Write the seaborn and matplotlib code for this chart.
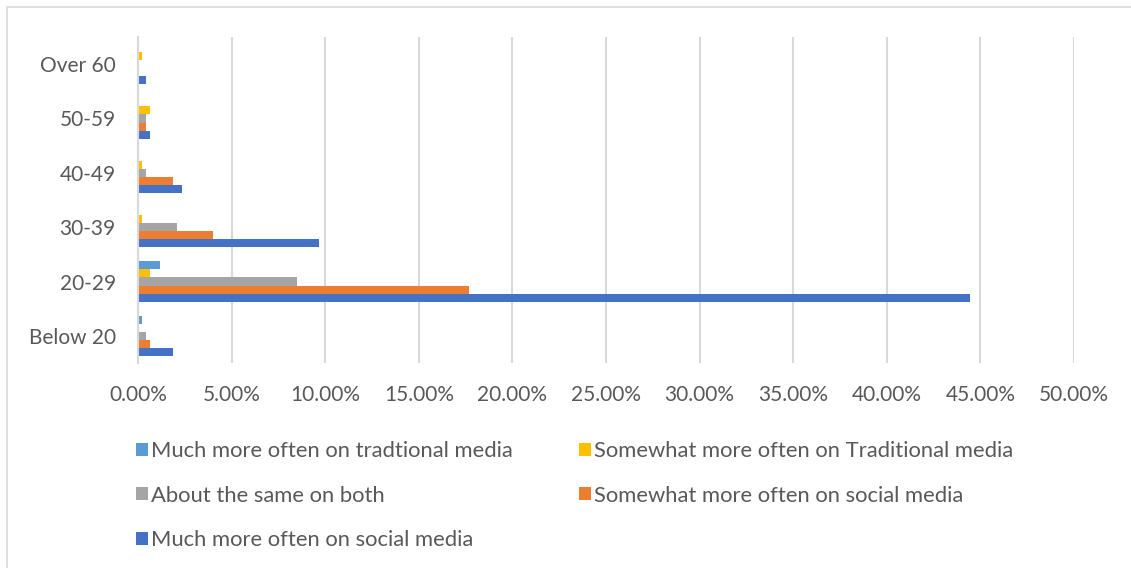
import matplotlib
matplotlib.use("Agg")
import matplotlib.pyplot as plt
from matplotlib.patches import Rectangle
from matplotlib.ticker import FuncFormatter, MultipleLocator
import seaborn as sns
import pandas as pd

# Age groups, top to bottom
age_groups = ["Over 60", "50-59", "40-49", "30-39", "20-29", "Below 20"]

# Share of respondents (%) per answer, listed in age_groups order
much_more_traditional = [0.0, 0.0, 0.0, 0.0, 1.15, 0.21]
somewhat_more_traditional = [0.21, 0.66, 0.21, 0.21, 0.66, 0.0]
about_same = [0.0, 0.41, 0.41, 2.10, 8.50, 0.41]
somewhat_more_social = [0.0, 0.41, 1.85, 4.00, 17.70, 0.66]
much_more_social = [0.41, 0.66, 2.33, 9.66, 44.45, 1.85]

series_names = [
    "Much more often on tradtional media",
    "Somewhat more often on Traditional media",
    "About the same on both",
    "Somewhat more often on social media",
    "Much more often on social media",
]
series_values = [
    much_more_traditional,
    somewhat_more_traditional,
    about_same,
    somewhat_more_social,
    much_more_social,
]
series_colors = ["#5B9BD5", "#FFC000", "#A5A5A5", "#ED7D31", "#4472C4"]

rows = []
for name, vals in zip(series_names, series_values):
    for grp, v in zip(age_groups, vals):
        rows.append({"Age": grp, "Answer": name, "Share": v})
df = pd.DataFrame(rows)

sns.set_theme(style="white")
plt.rcParams["font.family"] = ["Lato", "DejaVu Sans"]
text_color = "#595959"
grid_color = "#D9D9D9"

W, H = 1131, 568
fig = plt.figure(figsize=(W / 100, H / 100), dpi=100)
ax = fig.add_axes([138 / W, 1 - 363 / H, (1074 - 138) / W, (363 - 37) / H])

sns.barplot(
    data=df, y="Age", x="Share", hue="Answer",
    order=age_groups, hue_order=series_names,
    palette=series_colors, orient="h", width=0.74,
    saturation=1, linewidth=0, ax=ax,
)

ax.set_xlim(0, 50)
ax.xaxis.set_major_locator(MultipleLocator(5))
ax.xaxis.set_major_formatter(FuncFormatter(lambda v, _: f"{v:.2f}%"))
ax.set_xlabel("")
ax.set_ylabel("")
ax.grid(axis="x", color=grid_color, linewidth=1.5)
ax.set_axisbelow(True)
for side in ["top", "right", "bottom"]:
    ax.spines[side].set_visible(False)
ax.spines["left"].set_color(grid_color)
ax.spines["left"].set_linewidth(1.5)
ax.tick_params(axis="both", length=0, labelsize=15, labelcolor=text_color)
ax.tick_params(axis="x", pad=16)
ax.tick_params(axis="y", pad=16)

# Legend laid out row by row in two columns
handles, labels = ax.get_legend_handles_labels()
order = [0, 2, 4, 1, 3]
ax.legend(
    [handles[i] for i in order], [labels[i] for i in order],
    ncol=2, frameon=False, fontsize=15.8, labelcolor=text_color,
    loc="upper left", bbox_to_anchor=(125 / W, 1 - 430 / H),
    bbox_transform=fig.transFigure,
    handlelength=0.55, handleheight=0.55, handletextpad=0.15,
    columnspacing=3.0, labelspacing=1.12, borderpad=0,
)

# Chart area frame
fig.patches.append(Rectangle((7 / W, -0.1), 1.2, 1.1 - 7 / H,
                             transform=fig.transFigure, fill=False,
                             edgecolor=grid_color, linewidth=1.2))

fig.savefig("out.png", dpi=100, facecolor="white")
